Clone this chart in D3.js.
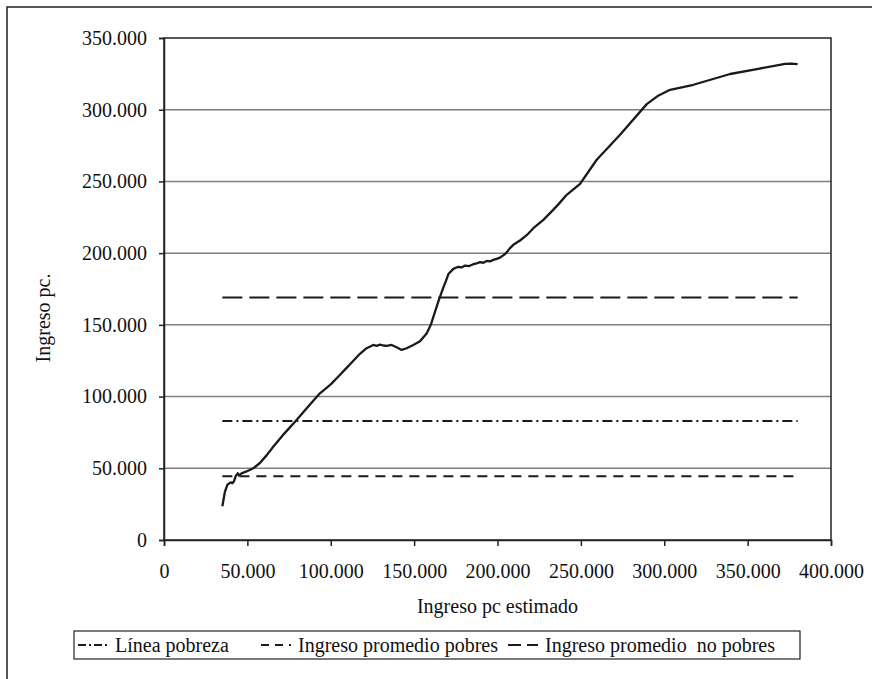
<!DOCTYPE html>
<html><head><meta charset="utf-8">
<script src="https://cdn.jsdelivr.net/npm/d3@7"></script>
<style>body{margin:0;background:#fff}svg{display:block}text{font-family:"Liberation Serif","Times New Roman",serif;fill:#111;white-space:pre}</style>
</head><body><svg id="c" width="872" height="679"></svg>
<script>
// Ingreso pc estimado (x) vs Ingreso pc (y)
const xVals=[35000,36500,38000,40000,41000,42000,43000,44200,45000,46500,49500,53500,57500,61500,65500,72000,79500,86500,93500,100000,104000,108500,113000,117500,121500,125500,127500,129500,131500,133500,136500,139500,142500,145500,149500,153500,157500,160000,162500,165000,167500,169200,170600,173500,176500,178500,180500,183000,185500,187500,189500,191500,193500,195500,197500,199500,201500,204500,207500,209500,213500,217500,221500,227500,231500,236500,241500,245500,249500,259500,273500,289500,296000,303500,317500,339500,355500,372500,376000,380000];
const yVals=[23500,33500,38500,40200,39600,41000,44500,46500,45000,46500,47800,50000,53700,59000,65000,74000,83700,93000,102300,108500,113300,118800,124300,129800,133700,136000,135400,136200,135600,135300,136000,134400,132500,133700,136000,138500,144000,150000,159000,168000,176000,181000,185500,189000,190500,190000,191300,191000,192300,192800,193700,193300,194600,194200,195300,196000,196900,199300,203500,205800,208800,212500,217400,223200,227900,234000,240700,244500,248300,265100,282500,303900,309500,313900,317400,324900,328300,332000,332200,331800];
const refNames=["Línea pobreza","Ingreso promedio pobres","Ingreso promedio  no pobres"];
const refValues=[83000,44500,169000];
const refStart=35000, refEnd=380000;
const xTicks=[0,50000,100000,150000,200000,250000,300000,350000,400000];
const yTicks=[0,50000,100000,150000,200000,250000,300000,350000];
const xTitle="Ingreso pc estimado", yTitle="Ingreso pc.";

const dashes=["10,4,2,4","10,7","20,7"];
const legendDashes=["8,3,2,3","8,6","13,6"];
const svg=d3.select("#c");
const L=164,R=831,T=38,B=540;
const x=d3.scaleLinear().domain([0,400000]).range([L,R]);
const y=d3.scaleLinear().domain([0,350000]).range([B,T]);
const fmt=v=>v===0?"0":d3.format(",")(v).replace(/,/g,".");

svg.append("rect").attr("x",7).attr("y",7).attr("width",900).attr("height",700).attr("fill","none").attr("stroke","#222").attr("stroke-width",1.5);

// grid
svg.append("g").selectAll("line").data(yTicks.filter(v=>v>0&&v<350000)).join("line")
 .attr("x1",L).attr("x2",R).attr("y1",d=>y(d)).attr("y2",d=>y(d)).attr("stroke","#808080").attr("stroke-width",1.5);
svg.append("rect").attr("x",L).attr("y",T).attr("width",R-L).attr("height",B-T).attr("fill","none").attr("stroke","#222").attr("stroke-width",1.5);

const ya=svg.append("g").attr("transform",`translate(${L},0)`).call(d3.axisLeft(y).tickValues(yTicks).tickFormat(fmt).tickSize(5).tickPadding(12));
const xa=svg.append("g").attr("transform",`translate(0,${B})`).call(d3.axisBottom(x).tickValues(xTicks).tickFormat(fmt).tickSize(6).tickPadding(18));
[ya,xa].forEach(a=>{a.attr("font-family",null);a.select(".domain").attr("stroke","#222").attr("stroke-width",1.5);a.selectAll("line").attr("stroke","#222").attr("stroke-width",1.5);a.selectAll("text").attr("font-size",20).attr("font-family","Liberation Serif").attr("fill","#111");});

svg.append("text").attr("x",(L+R)/2).attr("y",613).attr("text-anchor","middle").attr("font-size",20).text(xTitle);
svg.append("text").attr("transform","translate(50,318) rotate(-90)").attr("text-anchor","middle").attr("font-size",20).text(yTitle);

// reference lines
svg.append("g").selectAll("line").data(refValues).join("line")
 .attr("x1",x(refStart)).attr("x2",x(refEnd)).attr("y1",d=>y(d)).attr("y2",d=>y(d))
 .attr("stroke","#1a1a1a").attr("stroke-width",2).attr("stroke-dasharray",(d,i)=>dashes[i]);

// curve
const pts=xVals.map((v,i)=>[v,yVals[i]]);
svg.append("path").datum(pts).attr("fill","none").attr("stroke","#1a1a1a").attr("stroke-width",2.3).attr("stroke-linejoin","round")
 .attr("d",d3.line().x(d=>x(d[0])).y(d=>y(d[1])));

// legend
const lg=svg.append("g");
const ly=631, lh=28, lx=74, lw=726;
lg.append("rect").attr("x",lx).attr("y",ly).attr("width",lw).attr("height",lh).attr("fill","#fff").attr("stroke","#222").attr("stroke-width",1.2);
const starts=[78,261,508];
refNames.forEach((n,i)=>{
  const g=lg.append("g").attr("transform",`translate(${starts[i]},0)`);
  g.append("line").attr("x1",0).attr("x2",30).attr("y1",ly+lh/2).attr("y2",ly+lh/2).attr("stroke","#1a1a1a").attr("stroke-width",2).attr("stroke-dasharray",legendDashes[i]);
  g.append("text").attr("x",37).attr("y",ly+lh/2+7).attr("font-size",20).text(n);
});
</script></body></html>
